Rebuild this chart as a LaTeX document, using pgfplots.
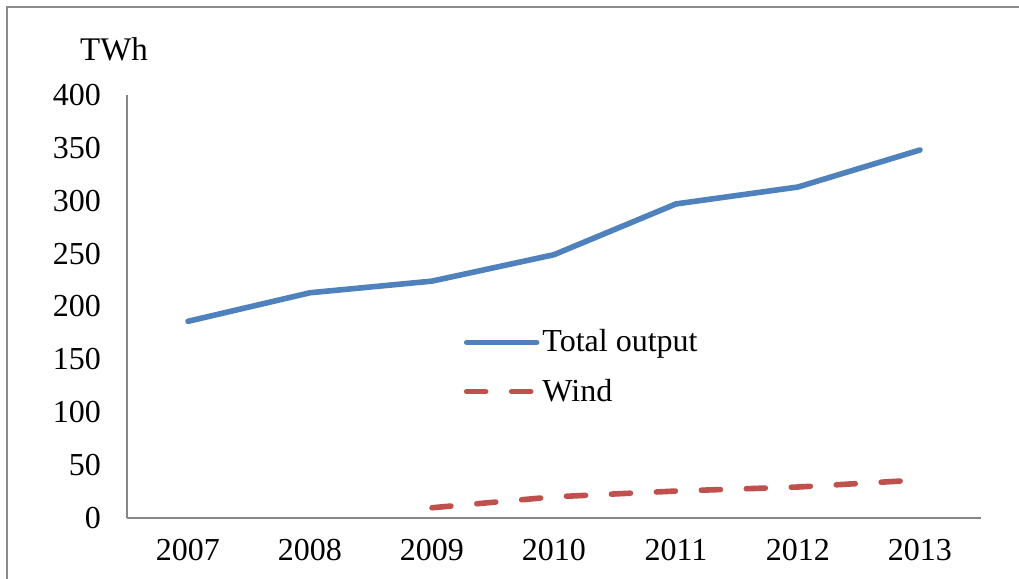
\documentclass[border=0pt]{standalone}
\usepackage{pgfplots}
\pgfplotsset{compat=1.18}
\usepackage{fontspec}
\setmainfont{Liberation Serif}
\definecolor{tblue}{RGB}{79,129,189}
\definecolor{wred}{RGB}{192,80,77}
\definecolor{axgray}{RGB}{134,134,134}
\definecolor{framegray}{RGB}{140,140,140}
\begin{document}
\begin{tikzpicture}
\useasboundingbox (0pt,0pt) rectangle (509.5pt,289.5pt);
\draw[framegray, line width=1.2pt] (3.5pt,-5pt) -- (3.5pt,286pt) -- (520pt,286pt);
\begin{axis}[
  at={(63.5pt,30.5pt)}, anchor=south west,
  scale only axis, width=427pt, height=211.5pt,
  xmin=-0.5, xmax=6.5, ymin=0, ymax=400,
  xtick={0,1,2,3,4,5,6},
  xticklabels={2007,2008,2009,2010,2011,2012,2013},
  ytick={0,50,...,400},
  axis x line*=bottom, axis y line*=left,
  axis line style={axgray, line width=1pt},
  major tick length=0pt,
  tick label style={font=\fontsize{16}{19}\selectfont},
  /pgf/number format/assume math mode=true,
  yticklabel style={xshift=-9.5pt},
  xticklabel style={yshift=-7pt},
  clip=false,
  legend style={at={(0.387,0.357)}, anchor=west, draw=none, fill=none,
    font=\fontsize{16}{19}\selectfont, row sep=9pt,
    nodes={inner sep=1.5pt}},
  legend cell align=left,
  legend image code/.code={\draw[#1] (0pt,0pt) -- (35pt,0pt);},
]
\addplot[tblue, line width=2.8pt, line cap=round, line join=round] coordinates {
  (0,186) (1,213) (2,224) (3,249) (4,297) (5,313) (6,348)};
\addlegendentry{Total output}
\addplot[wred, line width=2.8pt, line cap=round, dash pattern=on 9.5pt off 13pt] coordinates {
  (2,9.7) (3,20) (4,25.5) (5,29.3) (6,36)};
\addlegendentry{Wind}
\end{axis}
\node[font=\fontsize{16.5}{19}\selectfont] at (57pt,265pt) {TWh};
\end{tikzpicture}
\end{document}
